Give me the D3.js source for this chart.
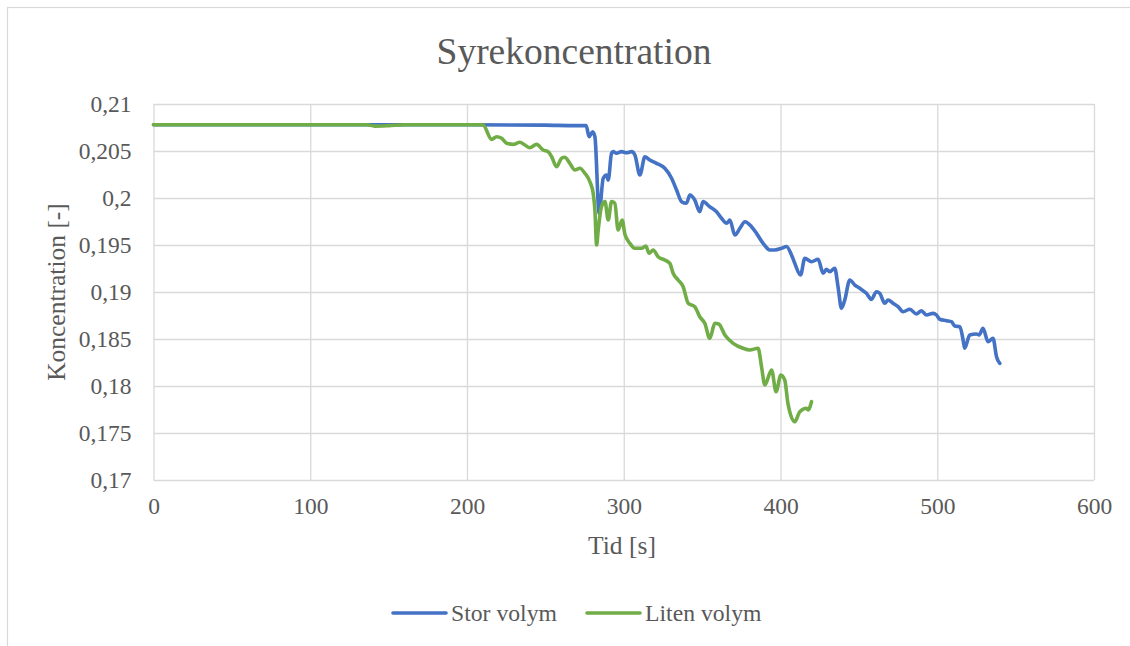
<!DOCTYPE html>
<html>
<head>
<meta charset="utf-8">
<script src="https://cdn.jsdelivr.net/npm/d3@7"></script>
<style>
  html, body { margin: 0; padding: 0; background: #fff; }
  svg { display: block; }
</style>
</head>
<body>
<svg id="chart" width="1130" height="646" font-family="'Liberation Serif', 'Times New Roman', serif"></svg>
<script>
// Syrekoncentration över tid för två volymer
const storTid = [0, 100, 200, 250, 270, 276, 277.9, 280.1, 281.6, 284.3, 286.9, 289.0, 290.1, 292.2, 293.2, 295.4, 298.6, 301.8, 305.0, 307.1, 310.3, 313.5, 316.6, 320.9, 326.2, 330.5, 333.7, 336.9, 340.0, 342.2, 345.3, 348.5, 350.6, 354.9, 359.2, 362.4, 365.6, 367.7, 370.9, 374.1, 377.3, 381.5, 384.7, 388.9, 393.2, 396.4, 400.6, 403.8, 407.0, 409.1, 412.8, 415.5, 419.8, 424.0, 427.2, 429.3, 431.4, 434.6, 436.7, 438.9, 441.0, 444.2, 447.4, 450.6, 454.8, 458.0, 461.2, 463.3, 466.5, 468.6, 471.8, 475.0, 478.2, 482.5, 486.7, 489.9, 493.1, 497.3, 499.5, 501.6, 505.9, 509.1, 511.2, 514.4, 516.5, 517.5, 520.7, 525.0, 526.7, 529.2, 532.4, 535.6, 537.8, 539.9];
const storVarde = [0.2078, 0.2078, 0.2078, 0.20775, 0.2077, 0.2077, 0.20652, 0.20705, 0.20652, 0.19837, 0.20210, 0.20245, 0.20191, 0.20476, 0.20493, 0.20476, 0.20493, 0.20482, 0.20493, 0.20457, 0.20245, 0.20439, 0.20404, 0.20369, 0.20316, 0.20210, 0.20085, 0.19961, 0.19944, 0.20032, 0.19979, 0.19854, 0.19961, 0.19907, 0.19854, 0.19784, 0.19731, 0.19766, 0.19606, 0.19678, 0.19748, 0.19695, 0.19624, 0.19518, 0.19447, 0.19447, 0.19465, 0.19484, 0.19394, 0.19305, 0.19181, 0.19358, 0.19322, 0.19348, 0.19199, 0.19241, 0.19216, 0.19252, 0.19056, 0.18827, 0.18915, 0.19128, 0.19074, 0.19039, 0.18986, 0.18922, 0.19003, 0.18986, 0.18880, 0.18915, 0.18880, 0.18844, 0.18790, 0.18816, 0.18766, 0.18801, 0.18755, 0.18773, 0.18755, 0.18710, 0.18695, 0.18684, 0.18638, 0.18631, 0.18489, 0.18401, 0.18543, 0.18553, 0.18543, 0.18614, 0.18471, 0.18507, 0.18312, 0.18241];

const litenTid = [0, 100, 136, 141, 150, 160, 210.1, 215.7, 218.9, 222.1, 225.3, 229.5, 233.7, 236.9, 240.1, 244.4, 248.6, 251.8, 254.0, 257.1, 260.3, 262.4, 265.6, 268.8, 272.0, 275.2, 278.4, 280.5, 281.6, 282.7, 283.7, 285.8, 288.0, 290.1, 292.2, 294.3, 296.4, 299.0, 300.7, 303.9, 307.1, 311.4, 314.1, 316.2, 318.8, 321.9, 326.2, 329.4, 331.5, 334.7, 337.9, 341.1, 345.3, 348.5, 351.7, 354.9, 358.1, 360.6, 364.5, 369.8, 376.1, 380.4, 385.7, 387.9, 390.0, 394.3, 397.2, 400.2, 402.7, 404.8, 409.1, 412.3, 416.6, 417.6, 419.8];
const litenVarde = [0.2078, 0.2078, 0.2078, 0.20765, 0.2077, 0.2078, 0.2078, 0.20624, 0.20652, 0.20635, 0.20582, 0.20571, 0.20593, 0.20564, 0.20535, 0.20571, 0.20511, 0.20493, 0.20439, 0.20333, 0.20422, 0.20433, 0.20369, 0.20298, 0.20316, 0.20263, 0.20173, 0.20050, 0.19872, 0.19500, 0.19660, 0.19907, 0.19961, 0.19766, 0.19961, 0.19944, 0.19660, 0.19766, 0.19617, 0.19518, 0.19465, 0.19465, 0.19489, 0.19412, 0.19447, 0.19376, 0.19340, 0.19305, 0.19199, 0.19128, 0.19056, 0.18880, 0.18844, 0.18737, 0.18667, 0.18507, 0.18667, 0.18660, 0.18543, 0.18454, 0.18401, 0.18383, 0.18401, 0.18205, 0.18011, 0.18170, 0.17939, 0.18117, 0.18064, 0.17809, 0.17620, 0.17727, 0.17763, 0.17745, 0.17833];

const xTicks = [0, 100, 200, 300, 400, 500, 600];
const yTicks = [0.17, 0.175, 0.18, 0.185, 0.19, 0.195, 0.2, 0.205, 0.21];
const seriesNames = ["Stor volym", "Liten volym"];
const seriesColors = ["#4472C4", "#70AD47"];

const FONT = "'Liberation Serif', 'Times New Roman', serif";
const TEXT = "#595959";
const GRID = "#d9d9d9";

const svg = d3.select("#chart");
const plot = { left: 153.5, right: 1094, top: 104, bottom: 480 };

// Chart frame (open to the right and bottom edges of the page)
svg.append("rect")
  .attr("x", 7.5).attr("y", 7.5)
  .attr("width", 1140).attr("height", 700)
  .attr("fill", "#fff").attr("stroke", GRID).attr("stroke-width", 1.2);

const x = d3.scaleLinear().domain([0, 600]).range([plot.left, plot.right]);
const y = d3.scaleLinear().domain([0.17, 0.21]).range([plot.bottom, plot.top]);

const fmtY = v => String(+v.toFixed(3)).replace(".", ",");

// Horizontal grid + y labels
const yAxis = d3.axisLeft(y).tickValues(yTicks).tickSize(-(plot.right - plot.left)).tickPadding(22).tickFormat(fmtY);
const gy = svg.append("g").attr("transform", `translate(${plot.left},0)`).call(yAxis);
gy.attr("font-family", FONT).attr("font-size", 23.5);
gy.select(".domain").remove();
gy.selectAll("line").attr("stroke", GRID).attr("stroke-width", 1.3);
gy.selectAll("text").attr("fill", TEXT);

// Vertical grid + x labels
const xAxis = d3.axisBottom(x).tickValues(xTicks).tickSize(-(plot.bottom - plot.top)).tickPadding(17).tickFormat(d3.format("d"));
const gx = svg.append("g").attr("transform", `translate(0,${plot.bottom})`).call(xAxis);
gx.attr("font-family", FONT).attr("font-size", 23.5);
gx.select(".domain").remove();
gx.selectAll("line").attr("stroke", GRID).attr("stroke-width", 1.3);
gx.selectAll("text").attr("fill", TEXT);

// Lines
const line = d3.line().x(d => x(d[0])).y(d => y(d[1])).curve(d3.curveMonotoneX);
const series = [
  d3.zip(storTid, storVarde),
  d3.zip(litenTid, litenVarde)
];
series.forEach((data, i) => {
  svg.append("path")
    .datum(data)
    .attr("fill", "none")
    .attr("stroke", seriesColors[i])
    .attr("stroke-width", 3.6)
    .attr("stroke-linejoin", "round")
    .attr("stroke-linecap", "round")
    .attr("d", line);
});

// Title
svg.append("text")
  .attr("x", 574).attr("y", 64)
  .attr("text-anchor", "middle")
  .attr("font-family", FONT).attr("font-size", 37.5).attr("fill", TEXT)
  .text("Syrekoncentration");

// Axis titles
svg.append("text")
  .attr("x", 622).attr("y", 554)
  .attr("text-anchor", "middle")
  .attr("font-family", FONT).attr("font-size", 25.5).attr("fill", TEXT)
  .text("Tid [s]");

svg.append("text")
  .attr("transform", `translate(65,${(plot.top + plot.bottom) / 2}) rotate(-90)`)
  .attr("text-anchor", "middle")
  .attr("font-family", FONT).attr("font-size", 25.5).attr("fill", TEXT)
  .text("Koncentration [-]");

// Legend
const legendItems = [
  { name: seriesNames[0], color: seriesColors[0], x0: 393 },
  { name: seriesNames[1], color: seriesColors[1], x0: 587 }
];
legendItems.forEach(it => {
  svg.append("line")
    .attr("x1", it.x0).attr("x2", it.x0 + 53)
    .attr("y1", 613).attr("y2", 613)
    .attr("stroke", it.color).attr("stroke-width", 3.6)
    .attr("stroke-linecap", "round");
  svg.append("text")
    .attr("x", it.x0 + 58).attr("y", 621)
    .attr("font-family", FONT).attr("font-size", 23.7).attr("fill", TEXT)
    .text(it.name);
});
</script>
</body>
</html>
